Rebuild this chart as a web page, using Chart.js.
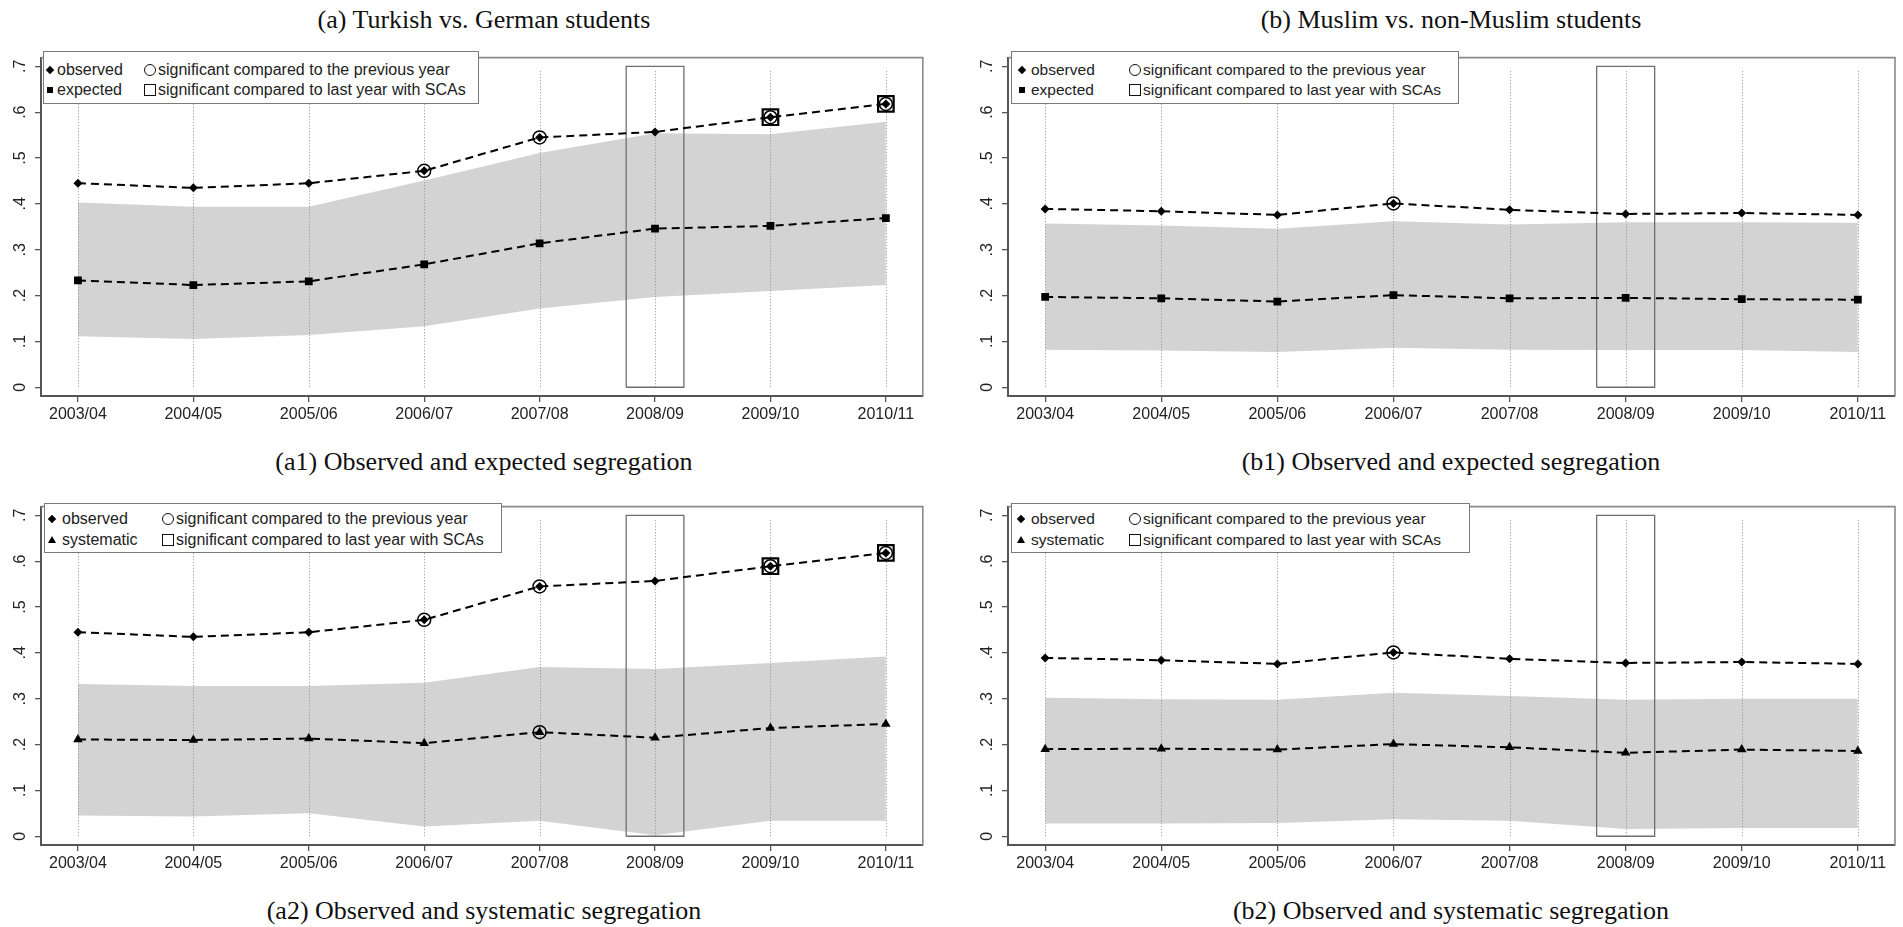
<!DOCTYPE html>
<html>
<head>
<meta charset="utf-8">
<script src="https://cdn.jsdelivr.net/npm/chart.js@4.4.1/dist/chart.umd.min.js"></script>
<style>
  body { margin: 0; background: #fff; width: 1903px; height: 927px; overflow: hidden; position: relative;
         font-family: "Liberation Sans", Arial, sans-serif; }
  canvas { position: absolute; }
  .title { position: absolute; font-family: "Liberation Serif", "Times New Roman", serif; font-size: 26px;
           color: #111; white-space: nowrap; transform: translateX(-50%); line-height: 30px; }
  .legend { position: absolute; border: 1.5px solid #7a7a7a; background: #fff; box-sizing: border-box; }
  .legend .txt { position: absolute; white-space: nowrap; line-height: 20px; color: #222; }
  .legend .sym { position: absolute; box-sizing: border-box; }
</style>
</head>
<body>
<canvas id="a1" width="936" height="396" style="left:0px;top:40px"></canvas>
<canvas id="b1" width="936" height="396" style="left:967px;top:40px"></canvas>
<canvas id="a2" width="936" height="396" style="left:0px;top:489px"></canvas>
<canvas id="b2" width="936" height="396" style="left:967px;top:489px"></canvas>

<div class="title" style="left:484px;top:5px">(a) Turkish vs. German students</div>
<div class="title" style="left:1451px;top:5px">(b) Muslim vs. non-Muslim students</div>
<div class="title" style="left:484px;top:447px">(a1) Observed and expected segregation</div>
<div class="title" style="left:1451px;top:447px">(b1) Observed and expected segregation</div>
<div class="title" style="left:484px;top:896px">(a2) Observed and systematic segregation</div>
<div class="title" style="left:1451px;top:896px">(b2) Observed and systematic segregation</div>

<script>
const years = ['2003/04', '2004/05', '2005/06', '2006/07', '2007/08', '2008/09', '2009/10', '2010/11'];
const yTicks = [0, 0.1, 0.2, 0.3, 0.4, 0.5, 0.6, 0.7];
const yTickLabels = ['0', '.1', '.2', '.3', '.4', '.5', '.6', '.7'];
const scaYear = 5;        // 2008/09, year with SCAs
const scaHalf = 0.25;

// (a) Turkish vs. German students
const aObserved   = [0.445, 0.435, 0.445, 0.472, 0.545, 0.557, 0.589, 0.618];
const aExpected   = [0.233, 0.223, 0.231, 0.268, 0.314, 0.346, 0.352, 0.369];
const aExpLow     = [0.111, 0.105, 0.114, 0.133, 0.172, 0.197, 0.210, 0.223];
const aExpHigh    = [0.403, 0.394, 0.394, 0.451, 0.511, 0.554, 0.552, 0.579];
const aSystematic = [0.211, 0.210, 0.213, 0.203, 0.227, 0.215, 0.236, 0.245];
const aSysLow     = [0.045, 0.043, 0.050, 0.021, 0.034, 0.002, 0.034, 0.034];
const aSysHigh    = [0.332, 0.328, 0.328, 0.335, 0.369, 0.365, 0.378, 0.392];
const aObsSigPrev = [0, 0, 0, 1, 1, 0, 1, 1];
const aObsSigSca  = [0, 0, 0, 0, 0, 0, 1, 1];
const aSysSigPrev = [0, 0, 0, 0, 1, 0, 0, 0];

// (b) Muslim vs. non-Muslim students
const bObserved   = [0.389, 0.384, 0.376, 0.401, 0.387, 0.378, 0.380, 0.376];
const bExpected   = [0.197, 0.194, 0.187, 0.201, 0.194, 0.195, 0.192, 0.191];
const bExpLow     = [0.082, 0.080, 0.077, 0.086, 0.082, 0.081, 0.081, 0.077];
const bExpHigh    = [0.357, 0.353, 0.346, 0.362, 0.355, 0.360, 0.360, 0.359];
const bSystematic = [0.190, 0.191, 0.189, 0.201, 0.194, 0.182, 0.189, 0.186];
const bSysLow     = [0.028, 0.028, 0.029, 0.037, 0.034, 0.016, 0.018, 0.018];
const bSysHigh    = [0.302, 0.299, 0.298, 0.313, 0.306, 0.298, 0.300, 0.300];
const bObsSigPrev = [0, 0, 0, 1, 0, 0, 0, 0];
const noSig       = [0, 0, 0, 0, 0, 0, 0, 0];

const FONT = '"Liberation Sans", Arial, sans-serif';

function toXY(vals) { return vals.map((v, i) => ({x: i, y: v})); }
function pick(vals, flags) { return vals.map((v, i) => flags[i] ? {x: i, y: v} : null).filter(p => p); }

// dotted year lines, drawn over the band but under the series
const yearLines = {
  id: 'yearLines',
  afterDatasetDraw(chart, args) {
    if (args.index !== 1) return;
    const {ctx, scales: {x, y}} = chart;
    ctx.save();
    ctx.strokeStyle = '#8f8f8f';
    ctx.lineWidth = 1;
    ctx.setLineDash([1, 2]);
    years.forEach((_, i) => {
      const px = Math.round(x.getPixelForValue(i)) + 0.5;
      ctx.beginPath();
      ctx.moveTo(px, y.getPixelForValue(0));
      ctx.lineTo(px, y.getPixelForValue(yTicks[yTicks.length - 1]) + 4);
      ctx.stroke();
    });
    ctx.restore();
  }
};

// top and right edge of the plot region
const frame = {
  id: 'frame',
  beforeDatasetsDraw(chart) {
    const {ctx, chartArea: a} = chart;
    ctx.save();
    ctx.strokeStyle = '#8a8a8a';
    ctx.lineWidth = 1.6;
    ctx.beginPath();
    ctx.moveTo(a.left, a.top);
    ctx.lineTo(a.right, a.top);
    ctx.lineTo(a.right, a.bottom);
    ctx.stroke();
    ctx.restore();
  }
};

function makePanel(id, obs, obsPrev, obsSca, second, secondStyle, secondPrev, low, high) {
  const top = yTicks[yTicks.length - 1];
  const box = [
    {x: scaYear - scaHalf, y: 0}, {x: scaYear - scaHalf, y: top},
    {x: scaYear + scaHalf, y: top}, {x: scaYear + scaHalf, y: 0}, {x: scaYear - scaHalf, y: 0}
  ];
  const lineStyle = {
    borderColor: '#000', borderWidth: 2, borderDash: [8, 5], tension: 0,
    pointBackgroundColor: '#000', pointBorderColor: '#000', pointBorderWidth: 0, fill: false
  };
  new Chart(document.getElementById(id), {
    type: 'line',
    data: {
      datasets: [
        {data: toXY(low), borderWidth: 0, pointRadius: 0, fill: false, order: 20},
        {data: toXY(high), borderWidth: 0, pointRadius: 0, fill: '-1', backgroundColor: '#d3d3d3', order: 19},
        {data: box, borderColor: '#6e6e6e', borderWidth: 1.3, pointRadius: 0, fill: false, order: 15},
        Object.assign({data: toXY(obs), pointStyle: 'rectRot', pointRadius: 4.5, order: 5}, lineStyle),
        Object.assign({data: toXY(second), pointStyle: secondStyle,
                       pointRadius: secondStyle === 'rect' ? 5.5 : 5.5, order: 6}, lineStyle),
        {data: pick(obs, obsPrev).concat(pick(second, secondPrev)), showLine: false, pointStyle: 'circle',
         pointRadius: 6.5, pointBorderWidth: 1.5, pointBorderColor: '#000', pointBackgroundColor: 'rgba(0,0,0,0)', order: 1},
        {data: pick(obs, obsSca), showLine: false, pointStyle: 'rect',
         pointRadius: 11, pointBorderWidth: 2.2, pointBorderColor: '#000', pointBackgroundColor: 'rgba(0,0,0,0)', order: 1}
      ]
    },
    options: {
      responsive: false, animation: false, devicePixelRatio: 1,
      layout: {padding: {top: 9, right: 8, left: 0, bottom: 0}},
      plugins: {legend: {display: false}, tooltip: {enabled: false}},
      scales: {
        x: {
          type: 'linear', min: -0.32, max: 7.32,
          afterBuildTicks: s => { s.ticks = years.map((_, i) => ({value: i})); },
          afterFit: s => { s.height = 40; },
          ticks: {callback: v => years[v], font: {size: 16, family: FONT}, color: '#222',
                  padding: 3, maxRotation: 0, autoSkip: false},
          grid: {drawOnChartArea: false, drawTicks: true, tickLength: 6, color: '#555', lineWidth: 1.3},
          border: {color: '#555', width: 2}
        },
        y: {
          min: -0.0191, max: 0.7191,
          afterBuildTicks: s => { s.ticks = yTicks.map(v => ({value: v})); },
          afterFit: s => { s.width = 41; },
          ticks: {callback: (v, i) => yTickLabels[i], font: {size: 16, family: FONT}, color: '#222',
                  minRotation: 90, maxRotation: 90, crossAlign: 'center', padding: 8},
          grid: {drawOnChartArea: false, drawTicks: true, tickLength: 6, color: '#555', lineWidth: 1.3},
          border: {color: '#555', width: 2}
        }
      }
    },
    plugins: [yearLines, frame]
  });
}

makePanel('a1', aObserved, aObsSigPrev, aObsSigSca, aExpected, 'rect', noSig, aExpLow, aExpHigh);
makePanel('b1', bObserved, bObsSigPrev, noSig, bExpected, 'rect', noSig, bExpLow, bExpHigh);
makePanel('a2', aObserved, aObsSigPrev, aObsSigSca, aSystematic, 'triangle', aSysSigPrev, aSysLow, aSysHigh);
makePanel('b2', bObserved, bObsSigPrev, noSig, bSystematic, 'triangle', noSig, bSysLow, bSysHigh);

// legends inside the plot regions
function legend(box, rows, second, mark, col2, size) {
  const el = document.createElement('div');
  el.className = 'legend';
  el.style.cssText = `left:${box[0]}px;top:${box[1]}px;width:${box[2] - box[0]}px;height:${box[3] - box[1]}px;font-size:${size}px`;
  const add = (html, css, cls) => {
    const s = document.createElement('div');
    s.className = cls; s.style.cssText = css;
    if (html) s.textContent = html;
    el.appendChild(s);
  };
  const [r1, r2] = rows;
  // row 1: diamond + observed, circle + text
  add('', `left:${mark[0] - 3}px;top:${r1 - 3}px;width:6px;height:6px;background:#000;transform:rotate(45deg)`, 'sym');
  add('observed', `left:${mark[1]}px;top:${r1 - 10}px`, 'txt');
  add('', `left:${col2 - 14}px;top:${r1 - 6}px;width:12px;height:12px;border:1.5px solid #111;border-radius:50%`, 'sym');
  add('significant compared to the previous year', `left:${col2}px;top:${r1 - 10}px`, 'txt');
  // row 2
  if (second === 'expected') {
    add('', `left:${mark[0] - 3}px;top:${r2 - 3}px;width:6px;height:6px;background:#000`, 'sym');
  } else {
    add('', `left:${mark[0] - 4}px;top:${r2 - 4}px;width:0;height:0;border-left:4px solid transparent;border-right:4px solid transparent;border-bottom:7px solid #000`, 'sym');
  }
  add(second, `left:${mark[1]}px;top:${r2 - 10}px`, 'txt');
  add('', `left:${col2 - 14}px;top:${r2 - 6}px;width:12px;height:12px;border:1.5px solid #111`, 'sym');
  add('significant compared to last year with SCAs', `left:${col2}px;top:${r2 - 10}px`, 'txt');
  document.body.appendChild(el);
}

legend([43, 51, 479, 104], [18, 38], 'expected', [6, 13], 114, 16);
legend([1011, 51, 1459, 104], [18, 38], 'expected', [10, 19], 131, 15.5);
legend([44, 503, 502, 553], [15, 36], 'systematic', [7, 17], 131, 16);
legend([1011, 503, 1470, 553], [15, 36], 'systematic', [9, 19], 131, 15.5);
</script>
</body>
</html>
